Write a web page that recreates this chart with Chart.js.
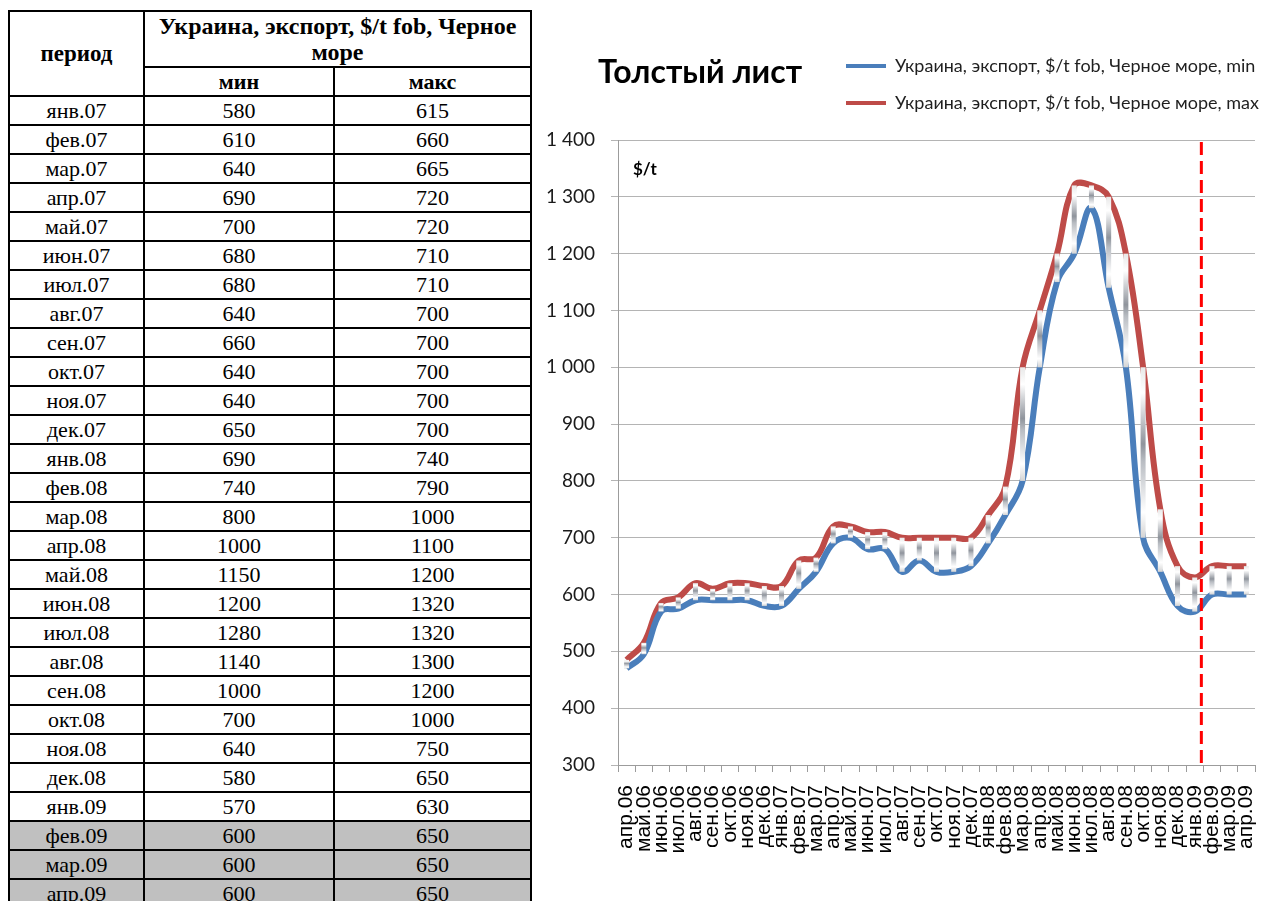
<!DOCTYPE html>
<html lang="ru">
<head>
<meta charset="utf-8">
<title>Толстый лист</title>
<script src="https://cdn.jsdelivr.net/npm/chart.js@4.4.1/dist/chart.umd.min.js"></script>
<style>
  html, body { margin: 0; padding: 0; background: #fff; }
  body { width: 1288px; height: 901px; position: relative; overflow: hidden; }
  #tbl { position: absolute; left: 8px; top: 10px; width: 522px; border-collapse: collapse; table-layout: fixed;
         font-family: 'Liberation Serif', 'Times New Roman', serif; font-size: 22px; color: #000; }
  #tbl th, #tbl td { border: 2px solid #000; padding: 0; text-align: center; }
  #tbl th { font-weight: bold; line-height: 26px; }
  #tbl tr.h1 th { height: 54px; font-size: 24px; padding: 0 6px; }
  #tbl tr.h1 th.per { font-size: 23px; padding: 0; }
  #tbl tr.h2 th { height: 27px; line-height: 27px; }
  #tbl td { height: 27px; line-height: 27px; }
  #tbl tr.fc td { background: #c0c0c0; }
  #chartBox { position: absolute; left: 530px; top: 0; width: 758px; height: 901px; }
</style>
</head>
<body>
<table id="tbl">
  <colgroup><col style="width:135px"><col style="width:190px"><col style="width:197px"></colgroup>
  <thead>
    <tr class="h1"><th rowspan="2" class="per">период</th><th colspan="2">Украина, экспорт, $/t fob, Черное море</th></tr>
    <tr class="h2"><th>мин</th><th>макс</th></tr>
  </thead>
  <tbody></tbody>
</table>
<div id="chartBox"><canvas id="chart"></canvas></div>

<script>
// --- data ---
const months = [
  'апр.06', 'май.06', 'июн.06', 'июл.06', 'авг.06', 'сен.06', 'окт.06', 'ноя.06', 'дек.06',
  'янв.07', 'фев.07', 'мар.07', 'апр.07', 'май.07', 'июн.07', 'июл.07', 'авг.07', 'сен.07', 'окт.07', 'ноя.07', 'дек.07',
  'янв.08', 'фев.08', 'мар.08', 'апр.08', 'май.08', 'июн.08', 'июл.08', 'авг.08', 'сен.08', 'окт.08', 'ноя.08', 'дек.08',
  'янв.09', 'фев.09', 'мар.09', 'апр.09'
];
const minValues = [
  470, 495, 570, 575, 590, 590, 590, 590, 580,
  580, 610, 640, 690, 700, 680, 680, 640, 660, 640, 640, 650,
  690, 740, 800, 1000, 1150, 1200, 1280, 1140, 1000, 700, 640, 580,
  570, 600, 600, 600
];
const maxValues = [
  485, 515, 585, 595, 620, 610, 620, 620, 615,
  615, 660, 665, 720, 720, 710, 710, 700, 700, 700, 700, 700,
  740, 790, 1000, 1100, 1200, 1320, 1320, 1300, 1200, 1000, 750, 650,
  630, 650, 650, 650
];
const seriesNames = [
  'Украина, экспорт, $/t fob, Черное море, min',
  'Украина, экспорт, $/t fob, Черное море, max'
];
const yMin = 300, yMax = 1400, yStep = 100;
const tableFrom = 9;     // the table starts at янв.07
const forecastFrom = 34; // фев.09 onwards is forecast (grey rows, red dashed line)

const FONT = "Lato, 'Open Sans', sans-serif";

// --- table ---
document.querySelector('#tbl tbody').innerHTML = months.slice(tableFrom).map((m, k) => {
  const i = k + tableFrom;
  return `<tr class="${i >= forecastFrom ? 'fc' : ''}"><td>${m}</td><td>${minValues[i]}</td><td>${maxValues[i]}</td></tr>`;
}).join('');

// --- plugins ---
// title on the left, legend on the right, same band above the plot
const placeHeader = {
  id: 'placeHeader',
  afterUpdate(chart) {
    const t = chart.titleBlock, l = chart.legend;
    t.left = 68; t.top = 55; t.bottom = t.top + t.height;
    l.left = 297; l.right = chart.width + 10; l.top = 38; l.bottom = l.top + l.height;
  }
};

// metallic high-low bars between min and max
const hiLoLines = {
  id: 'hiLoLines',
  afterDatasetsDraw(chart) {
    const { ctx, scales: { x, y } } = chart;
    ctx.save();
    months.forEach((m, i) => {
      const px = x.getPixelForValue(i);
      const top = y.getPixelForValue(maxValues[i]);
      const bot = y.getPixelForValue(minValues[i]);
      const g = ctx.createLinearGradient(0, top, 0, bot);
      g.addColorStop(0, '#e8e8e8');
      g.addColorStop(0.15, '#ffffff');
      g.addColorStop(0.45, '#8f949c');
      g.addColorStop(0.55, '#b8bcc2');
      g.addColorStop(0.85, '#ffffff');
      g.addColorStop(1, '#d4d4d4');
      ctx.fillStyle = g;
      ctx.fillRect(px - 2.5, top, 5, bot - top);
    });
    ctx.restore();
  }
};

// red dashed line where the forecast begins
const forecastLine = {
  id: 'forecastLine',
  afterDatasetsDraw(chart) {
    const { ctx, chartArea, scales: { x } } = chart;
    const px = (x.getPixelForValue(forecastFrom - 1) + x.getPixelForValue(forecastFrom)) / 2 - 2;
    ctx.save();
    ctx.strokeStyle = '#ff0000';
    ctx.lineWidth = 3;
    ctx.setLineDash([13, 6]);
    ctx.beginPath();
    ctx.moveTo(px, chartArea.top + 2);
    ctx.lineTo(px, chartArea.bottom + 3);
    ctx.stroke();
    ctx.restore();
  }
};

// "$/t" unit in the top left corner of the plot
const unitLabel = {
  id: 'unitLabel',
  afterDraw(chart) {
    const { ctx, chartArea } = chart;
    ctx.save();
    ctx.font = 'bold 17px ' + FONT;
    ctx.fillStyle = '#000';
    ctx.textBaseline = 'middle';
    ctx.fillText('$/t', chartArea.left + 15, chartArea.top + 30);
    ctx.restore();
  }
};

new Chart(document.getElementById('chart'), {
  type: 'line',
  data: {
    labels: months,
    datasets: [
      { label: seriesNames[0], data: minValues, borderColor: '#4a7ebb', backgroundColor: '#4a7ebb',
        borderWidth: 6, pointRadius: 0, tension: 0.4, fill: false },
      { label: seriesNames[1], data: maxValues, borderColor: '#be4b48', backgroundColor: '#be4b48',
        borderWidth: 6, pointRadius: 0, tension: 0.4, fill: false }
    ]
  },
  options: {
    responsive: true,
    maintainAspectRatio: false,
    animation: false,
    layout: { padding: { top: 20, right: 33, bottom: 0, left: 0 } },
    plugins: {
      title: {
        display: true, text: 'Толстый лист', align: 'start', color: '#000', padding: 0,
        font: { family: FONT, size: 32, weight: 'bold', lineHeight: 1.125 }
      },
      legend: {
        display: true, position: 'top', align: 'start',
        labels: {
          boxWidth: 40, boxHeight: 4, padding: 19, color: '#1f1f1f',
          font: { family: FONT, size: 18 },
          generateLabels(chart) {
            const items = Chart.defaults.plugins.legend.labels.generateLabels(chart);
            items.forEach(it => it.lineWidth = 0);
            return items;
          }
        }
      },
      tooltip: { enabled: false }
    },
    scales: {
      x: {
        offset: true,
        grid: { offset: true, drawOnChartArea: false, drawTicks: true, tickLength: 7, color: '#9c9c9c' },
        border: { color: '#9c9c9c' },
        ticks: { autoSkip: false, minRotation: 90, maxRotation: 90, padding: 13, color: '#000',
                 font: { family: "'Liberation Sans', Arial, sans-serif", size: 21 } },
        afterFit(s) { s.height = 136; }
      },
      y: {
        min: yMin, max: yMax,
        ticks: {
          stepSize: yStep, padding: 16, color: '#1a1a1a',
          font: { family: FONT, size: 19 },
          callback: v => String(v).replace(/\B(?=(\d{3})+(?!\d))/g, ' ')
        },
        grid: { color: '#b4b4b4', tickLength: 7 },
        border: { color: '#9c9c9c' },
        afterFit(s) { s.width = 88; }
      }
    }
  },
  plugins: [placeHeader, hiLoLines, forecastLine, unitLabel]
});
</script>
</body>
</html>
